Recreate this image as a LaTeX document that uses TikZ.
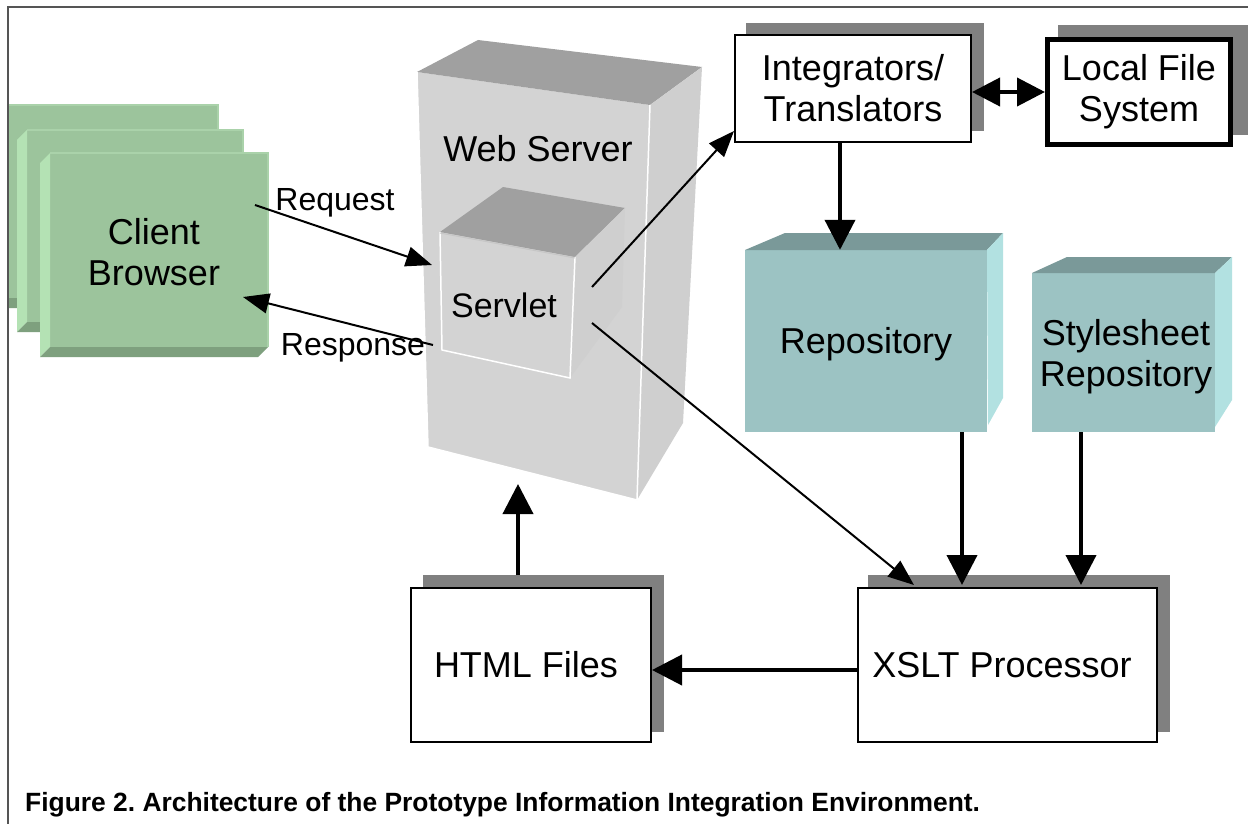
\documentclass[tikz,border=0pt]{standalone}
\usepackage{fontspec}
\setmainfont{Liberation Sans}
\usetikzlibrary{arrows.meta,calc}
\definecolor{gface}{RGB}{156,196,156}
\definecolor{glight}{RGB}{180,226,180}
\definecolor{gdark}{RGB}{126,160,126}
\definecolor{gedge}{RGB}{170,210,170}
\definecolor{sfront}{RGB}{211,211,211}
\definecolor{stop}{RGB}{160,160,160}
\definecolor{sright}{RGB}{207,207,207}
\definecolor{tfront}{RGB}{156,195,195}
\definecolor{ttop}{RGB}{122,153,153}
\definecolor{tright}{RGB}{178,225,225}
\definecolor{shadowgray}{RGB}{128,128,128}
\definecolor{framegray}{RGB}{85,85,85}
\newcommand\greenslab[4]{%
  \fill[gface] (#1,#2) rectangle (#3,#4);
  \draw[gedge, line width=1.5pt] (#1,#2) -- (#3,#2) -- (#3,#4);
  \fill[glight] (#1,#2) -- (#1-10,#2+10) -- (#1-10,#4+10) -- (#1,#4) -- cycle;
  \fill[gdark] (#1,#4) -- (#1-10,#4+10) -- (#3-10,#4+10) -- (#3,#4) -- cycle;
}
\frenchspacing
\begin{document}
\begin{tikzpicture}[x=1pt,y=-1pt,
  bigtext/.style={font=\fontsize{36}{41}\selectfont, align=center, inner sep=0},
  wbox/.style={draw=black, line width=2pt, fill=white, inner sep=0, align=center, font=\fontsize{36}{41}\selectfont},
  shadowbox/.style={fill=shadowgray},
  facebox/.style={inner sep=0},
  heavyarrow/.style={line width=4pt, -{Triangle[length=30pt,width=30pt]}},
  lightarrow/.style={line width=2pt, -{Triangle[length=26pt,width=20pt]}},
  smalllabel/.style={font=\fontsize{32}{36}\selectfont, inner sep=0},
]
\useasboundingbox (0,0) rectangle (1248,824);
\fill[white] (0,0) rectangle (1248,824);

% client browser stack
\begin{scope}
\clip (8,0) rectangle (1248,824);
\greenslab{4}{105}{218}{298}
\greenslab{27}{130}{243}{322}
\greenslab{50}{153}{268}{347}
\end{scope}
\node[facebox, minimum width=218pt, minimum height=194pt] (cb) at (159,250) {};
\node[bigtext] (cbtext) at (154,252) {Client\\Browser};

% web server
\fill[sfront] (417,72) -- (650,105) -- (637,500) -- (428,447) -- cycle;
\fill[stop] (417,72) -- (478,40) -- (702,67) -- (650,105) -- cycle;
\fill[sright] (650,105) -- (702,67) -- (683,423) -- (637,500) -- cycle;
\draw[white, line width=1.5pt] (417,72) -- (428,447) -- (637,500) -- (650,105);
\node[bigtext] (wslabel) at (538,149) {Web Server};

% servlet
\fill[sfront] (440,232) -- (575,257) -- (570,378) -- (442,350) -- cycle;
\fill[stop] (440,232) -- (503,187) -- (625,208) -- (575,257) -- cycle;
\fill[sright] (575,257) -- (625,208) -- (622,307) -- (570,378) -- cycle;
\draw[white, line width=1.5pt] (440,232) -- (442,350) -- (570,378) -- (575,257);
\draw[stop!60!white, line width=1pt] (440,233) -- (575,258);
\node[font=\fontsize{34}{38}\selectfont, inner sep=0] (svlabel) at (504,305) {Servlet};

% integrators
\fill[shadowbox] (746,23) rectangle (984,131);
\node[wbox, minimum width=236pt, minimum height=107pt] (integ) at (853,88.5) {Integrators/\\Translators};

% local file system
\fill[shadowbox] (1058,25) rectangle (1248,135);
\node[wbox, line width=5pt, minimum width=183pt, minimum height=105pt] (lfs) at (1139,92) {Local File\\System};

% repository
\node[facebox, fill=tfront, minimum width=242pt, minimum height=182pt] (repo) at (866,341) {};
\fill[ttop] (745,250) -- (785,233) -- (1003,233) -- (987,250) -- cycle;
\fill[tright] (987,250) -- (1003,233) -- (1003,398) -- (988,425) -- cycle;
\node[bigtext] (repotext) at (866,344) {Repository};

% stylesheet repository
\node[facebox, fill=tfront, minimum width=183pt, minimum height=159pt] (ss) at (1123.5,352.5) {};
\fill[ttop] (1032,273) -- (1067,257) -- (1232,257) -- (1215,273) -- cycle;
\fill[tright] (1215,273) -- (1232,257) -- (1232,400) -- (1215,427) -- cycle;
\node[bigtext] (sstext) at (1126,357) {Stylesheet\\Repository};

% HTML files
\fill[shadowbox] (423,575) rectangle (664,732);
\node[wbox, minimum width=240pt, minimum height=154pt] (html) at (531,665) {};
\node[bigtext] (htmltext) at (526,665) {HTML Files};

% XSLT processor
\fill[shadowbox] (868,575) rectangle (1170,732);
\node[wbox, minimum width=299pt, minimum height=154pt] (xslt) at (1007.5,665) {};
\node[bigtext] (xslttext) at (1002,665) {XSLT Processor};

% labels
\node[smalllabel] (reqlabel) at (335,203) {Request};
\node[smalllabel] (reslabel) at (353,348) {Response};

% coordinates
\coordinate (cbout) at (255,205);
\coordinate (cbin) at (243,297);
\coordinate (svin) at (432,265);
\coordinate (svout) at (433,345);
\coordinate (sv1) at (592,287);
\coordinate (sv2) at (592,323);
\coordinate (htop) at (518,575);
\coordinate (wsbot) at (518,484);

% connectors
\draw[lightarrow] (cbout) -- (svin);
\draw[lightarrow] (svout) -- (cbin);
\draw[lightarrow] (sv1) -- ($(integ.south west)+(0,-12)$);
\draw[lightarrow] (sv2) -- ($(xslt.north west)+(57,-2)$);
\draw[heavyarrow] ($(integ.south)+(-13,0)$) -- (repo.north -| 840,0);
\draw[line width=4pt, {Triangle[length=28pt,width=28pt]}-{Triangle[length=28pt,width=28pt]}] (integ.east |- lfs.west) -- (lfs.west);
\draw[heavyarrow] (repo.south -| 962,0) -- ($(xslt.north -| 962,0)+(0,-2)$);
\draw[heavyarrow] (ss.south -| 1081,0) -- ($(xslt.north -| 1081,0)+(0,-2)$);
\draw[heavyarrow] ($(xslt.west)+(0,5)$) -- ($(html.east |- xslt.west)+(0,5)$);
\draw[heavyarrow] (htop) -- (wsbot);

% frame
\draw[framegray, line width=2pt] (1248,7) -- (8,7) -- (8,824);

% caption
\node[anchor=base west, inner sep=0, font=\fontsize{26.4}{30}\selectfont\bfseries] (caption) at (25,811) {Figure 2. Architecture of the Prototype Information Integration Environment.};
\end{tikzpicture}
\end{document}
